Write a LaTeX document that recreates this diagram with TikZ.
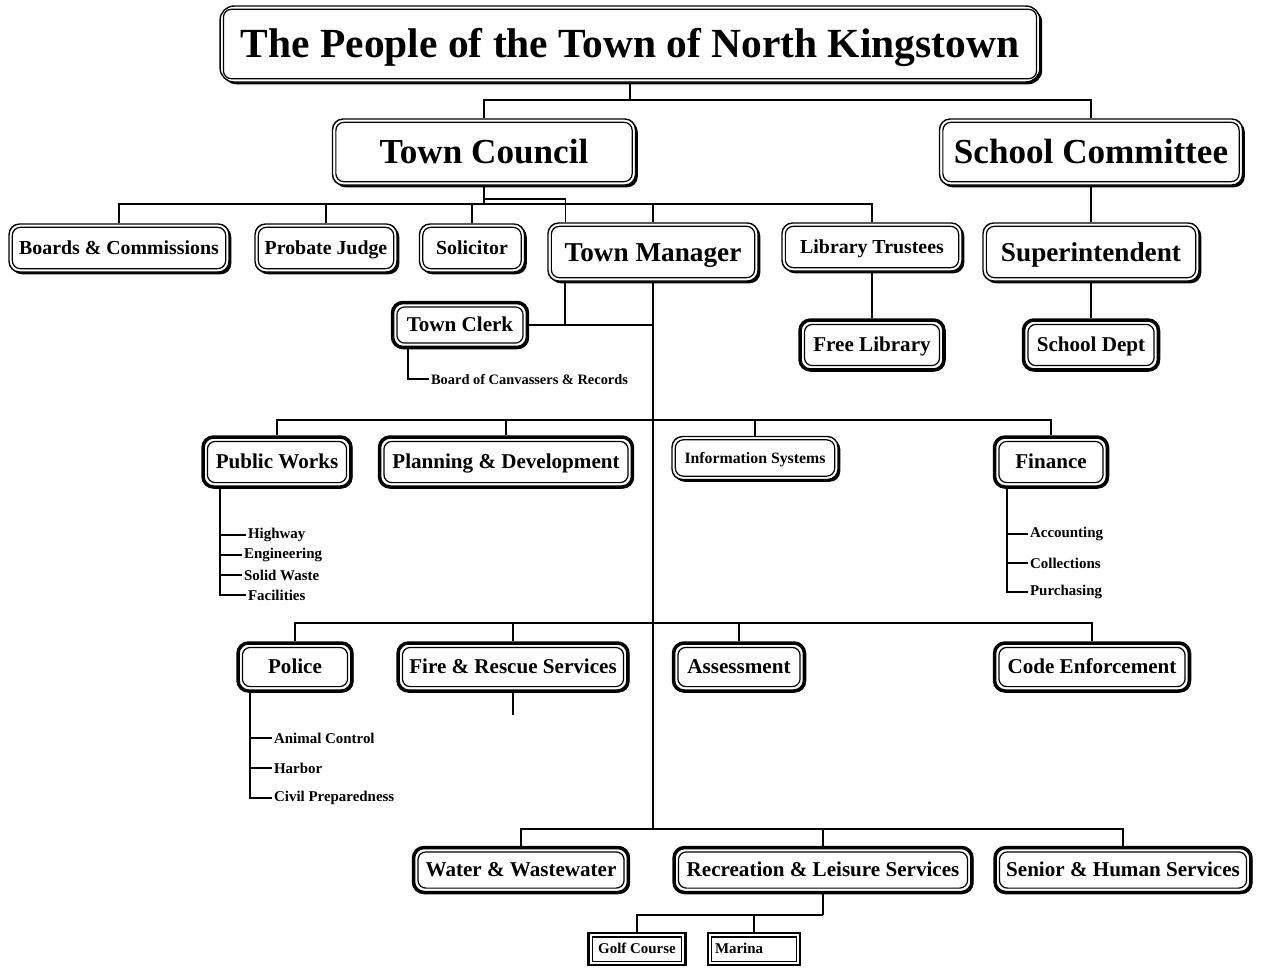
\documentclass[tikz,border=0pt]{standalone}
\usepackage{fontspec}
\setmainfont{Liberation Serif}
\usetikzlibrary{shadows}

\tikzset{
  unitbase/.style={draw, fill=white, rounded corners=6pt, inner sep=0pt, align=center},
  thinbox/.style={unitbase, line width=0.8pt,
    drop shadow={shadow xshift=1.3pt, shadow yshift=-1.3pt, fill=black, opacity=1}},
  boldbox/.style={unitbase, line width=2pt,
    drop shadow={shadow xshift=0.8pt, shadow yshift=-0.8pt, fill=black, opacity=1}},
  smallbox/.style={unitbase, sharp corners, line width=1.4pt,
    drop shadow={shadow xshift=0.8pt, shadow yshift=-0.8pt, fill=black, opacity=1}},
  innerline/.style={line width=0.7pt, rounded corners=4.5pt},
  link/.style={line width=1.2pt},
  thinlink/.style={line width=0.8pt},
  sub/.style={anchor=west, inner xsep=1pt, inner ysep=0pt, font=\bfseries\fontsize{8.5}{10}\selectfont},
  fA/.style={font=\bfseries\fontsize{23.6}{26}\selectfont, text height=16.5pt, text depth=1pt},
  fB/.style={font=\bfseries\fontsize{20}{22}\selectfont, text height=14pt, text depth=0.8pt},
  fC/.style={font=\bfseries\fontsize{15.5}{17}\selectfont, text height=10.9pt, text depth=0.6pt},
  fD/.style={font=\bfseries\fontsize{12}{14}\selectfont, text height=8.4pt, text depth=0.5pt},
  fE/.style={font=\bfseries\fontsize{11.3}{13}\selectfont, text height=7.9pt, text depth=0.45pt},
  fF/.style={font=\bfseries\fontsize{9}{11}\selectfont, text height=6.3pt, text depth=0.36pt},
  fG/.style={font=\bfseries\fontsize{8.5}{10}\selectfont, text height=6pt, text depth=0.34pt},
}

\begin{document}
\begin{tikzpicture}[x=0.02cm,y=-0.02cm]
\useasboundingbox (0,0) rectangle (1261,975);

% top of the chart
\node[thinbox,fA,rounded corners=8pt,minimum width=16.4cm,minimum height=1.52cm] (title) at (630,44) {The People of the Town of North Kingstown};
\node[thinbox,fB,minimum width=6.06cm,minimum height=1.32cm] (council) at (484,152) {Town Council};
\node[thinbox,fB,minimum width=6.06cm,minimum height=1.32cm] (school) at (1091,152) {School Committee};

% under the council and the committee
\node[thinbox,fE,minimum width=4.4cm,minimum height=0.96cm] (boards) at (119,248) {Boards \& Commissions};
\node[thinbox,fE,minimum width=2.84cm,minimum height=0.96cm] (probate) at (326,248) {Probate Judge};
\node[thinbox,fE,minimum width=2.1cm,minimum height=0.96cm] (solicitor) at (472,248) {Solicitor};
\node[thinbox,fC,minimum width=4.2cm,minimum height=1.16cm] (manager) at (653,252) {Town Manager};
\node[thinbox,fE,minimum width=3.6cm,minimum height=0.96cm] (trustees) at (872,247) {Library Trustees};
\node[thinbox,fC,minimum width=4.32cm,minimum height=1.16cm] (super) at (1091,252) {Superintendent};
\node[boldbox,fD,minimum width=2.88cm,minimum height=1cm] (library) at (872,345) {Free Library};
\node[boldbox,fD,minimum width=2.7cm,minimum height=1cm] (schooldept) at (1091,345) {School Dept};
\node[boldbox,fD,minimum width=2.7cm,minimum height=0.9cm] (clerk) at (460,325) {Town Clerk};
\node[sub,font=\bfseries\fontsize{8.2}{10}\selectfont] (canvass) at (429,379) {Board of Canvassers \& Records};

% departments, first row
\node[boldbox,fD,minimum width=2.96cm,minimum height=1cm] (works) at (277,462) {Public Works};
\node[boldbox,fD,minimum width=5.06cm,minimum height=1cm] (planning) at (506,462) {Planning \& Development};
\node[thinbox,fF,minimum width=3.32cm,minimum height=0.86cm] (infosys) at (755,458) {Information Systems};
\node[boldbox,fD,minimum width=2.26cm,minimum height=1cm] (finance) at (1051,462) {Finance};
\node[sub] (hwy) at (246,535) {Highway};
\node[sub] (eng) at (242,555) {Engineering};
\node[sub] (waste) at (242,575) {Solid Waste};
\node[sub] (fac) at (246,595) {Facilities};
\node[sub] (acct) at (1028,534) {Accounting};
\node[sub] (coll) at (1028,563) {Collections};
\node[sub] (purch) at (1028,592) {Purchasing};

% second row
\node[boldbox,fD,minimum width=2.28cm,minimum height=0.96cm] (police) at (295,667) {Police};
\node[boldbox,fD,minimum width=4.6cm,minimum height=0.96cm] (fire) at (513,667) {Fire \& Rescue Services};
\node[boldbox,fD,minimum width=2.62cm,minimum height=0.96cm] (assess) at (739,667) {Assessment};
\node[boldbox,fD,minimum width=3.9cm,minimum height=0.96cm] (code) at (1092,667) {Code Enforcement};
\node[sub] (animal) at (272,738) {Animal Control};
\node[sub] (harbor) at (272,768) {Harbor};
\node[sub] (civil) at (272,798) {Civil Preparedness};

% third row
\node[boldbox,fD,minimum width=4.3cm,minimum height=0.9cm] (water) at (521,870) {Water \& Wastewater};
\node[boldbox,fD,minimum width=5.96cm,minimum height=0.9cm] (rec) at (823,870) {Recreation \& Leisure Services};
\node[boldbox,fD,minimum width=5.12cm,minimum height=0.9cm] (senior) at (1123,870) {Senior \& Human Services};
\node[smallbox,fG,minimum width=1.94cm,minimum height=0.64cm] (golf) at (637,949) {Golf Course};
\node[smallbox,fG,text width=1.56cm,align=left,inner xsep=0.14cm,minimum height=0.64cm] (marina) at (754,949) {Marina};

% inner lines of the frames
\foreach \n in {title,council,school,boards,probate,solicitor,manager,trustees,super,infosys}
  \draw[innerline] ([shift={(2.3pt,2.3pt)}]\n.south west) rectangle ([shift={(-2.3pt,-2.3pt)}]\n.north east);
\foreach \n in {library,schooldept,clerk,works,planning,finance,police,fire,assess,code,water,rec,senior}
  \draw[innerline] ([shift={(3.5pt,3.5pt)}]\n.south west) rectangle ([shift={(-3.5pt,-3.5pt)}]\n.north east);
\foreach \n in {golf,marina}
  \draw[innerline,sharp corners] ([shift={(2.9pt,2.9pt)}]\n.south west) rectangle ([shift={(-2.9pt,-2.9pt)}]\n.north east);

% connectors
\coordinate (tbus) at (630,100);
\coordinate (cbus) at (484,204);
\coordinate (bus3) at (653,420);
\coordinate (bus4) at (653,623);
\coordinate (bus5) at (653,829);
\coordinate (rbus) at (823,915);

\draw[link] (title.south) -- (tbus);
\foreach \n in {council,school} \draw[link] (tbus) -| (\n.north);
\draw[link] (council.south) -- (cbus);
\foreach \n in {boards,probate,solicitor,manager,trustees} \draw[link] (cbus) -| (\n.north);
\draw[thinlink] (council.south |- 0,199) -| ([xshift=0.36cm]manager.north west);
\draw[link] (school.south) -- (super.north);
\draw[link] (super.south) -- (schooldept.north);
\draw[link] (trustees.south) -- (library.north);

\draw[link] (manager.south) -- (bus5);
\draw[link] ([xshift=0.36cm]manager.south west) |- (clerk.east);
\draw[link] (clerk.east) -- (clerk.east -| manager.south);
\draw[link] ([xshift=0.35cm]clerk.south west) |- (canvass.west);

\foreach \n in {works,planning,infosys,finance} \draw[link] (bus3) -| (\n.north);
\foreach \n in {hwy,eng,waste,fac} \draw[link] ([xshift=0.38cm]works.south west) |- (\n.west);
\foreach \n in {acct,coll,purch} \draw[link] ([xshift=0.29cm]finance.south west) |- (\n.west);

\foreach \n in {police,fire,assess,code} \draw[link] (bus4) -| (\n.north);
\draw[link] (fire.south) -- ++(0,22);
\foreach \n in {animal,harbor,civil} \draw[link] ([xshift=0.28cm]police.south west) |- (\n.west);

\foreach \n in {water,rec,senior} \draw[link] (bus5) -| (\n.north);
\draw[link] (rec.south) -- (rbus);
\foreach \n in {golf,marina} \draw[link] (rbus) -| (\n.north);

\end{tikzpicture}
\end{document}
